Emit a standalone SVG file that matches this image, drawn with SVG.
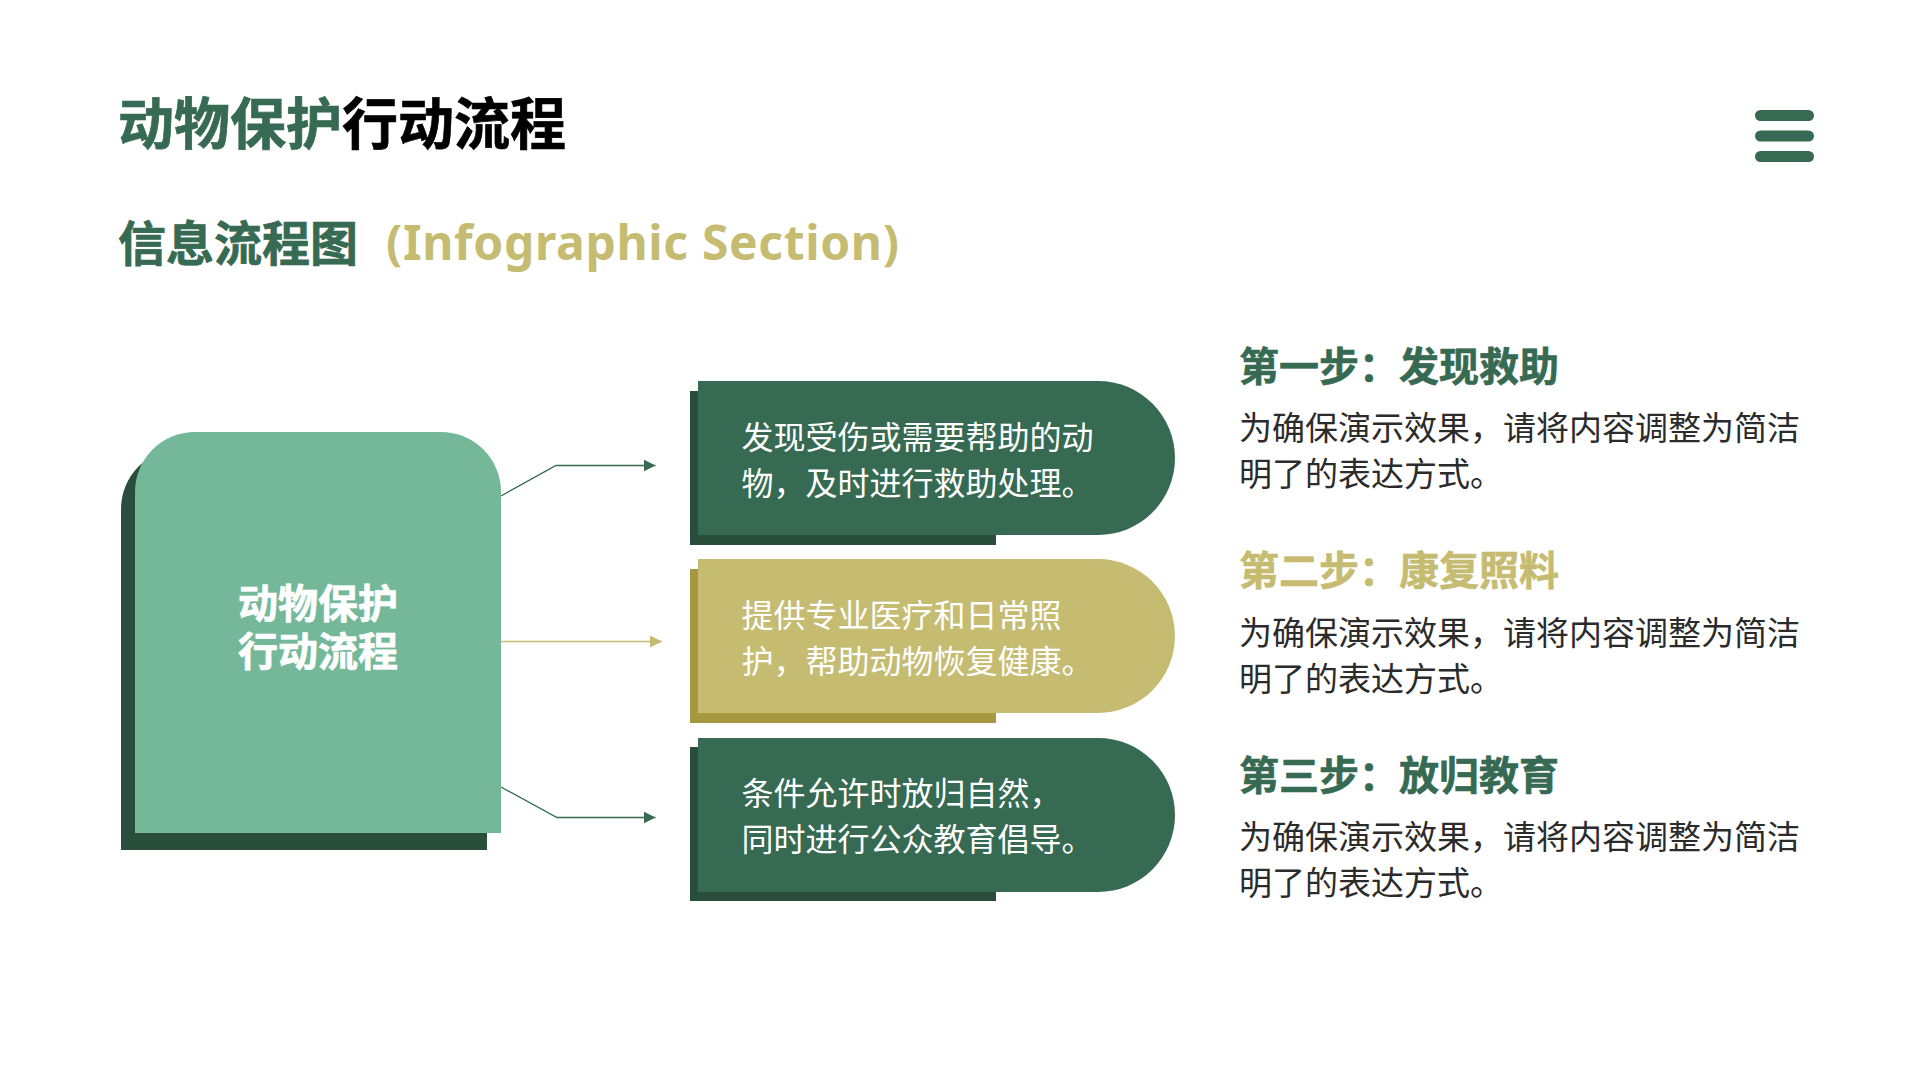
<svg xmlns="http://www.w3.org/2000/svg" width="1920" height="1080" viewBox="0 0 1920 1080">
<style>
text{font-family:"Noto Sans CJK SC","Noto Sans",sans-serif}
.b{font-weight:700;font-family:"Noto Sans","Noto Sans CJK SC",sans-serif;stroke-width:.7;paint-order:stroke}
.h{font-size:40px;font-weight:700;stroke-width:.6}
.d{font-size:33px;fill:#2b2b2b}
.p{font-size:32px;fill:#fff}
.green{fill:#366a52}.gold{fill:#c5bc72}.dk{fill:#2a4e3c}.gs{fill:#a59840}
.sg{stroke:#366a52}.sy{stroke:#c5bc72}
.latin{font-weight:700;letter-spacing:.65px;stroke:none}
.c1{fill:none;stroke:#366a52;stroke-width:1.3}
.c2{fill:none;stroke:#c5bc72;stroke-width:1.3}
</style>
<defs>
<marker id="ag" markerUnits="userSpaceOnUse" markerWidth="12" markerHeight="12" refX="12" refY="6" orient="auto"><path d="M0 0L12 6L0 12Z" fill="#366a52"/></marker>
<marker id="ay" markerUnits="userSpaceOnUse" markerWidth="12" markerHeight="12" refX="12" refY="6" orient="auto"><path d="M0 0L12 6L0 12Z" fill="#c5bc72"/></marker>
</defs>
<rect width="1920" height="1080" fill="#fff"/>
<g id="title"><text x="118" y="144" font-size="56" class="b"><tspan class="green sg">动物保护</tspan><tspan fill="#000" stroke="#000">行动流程</tspan></text></g>
<g id="subtitle"><text x="118" y="261" font-size="48" class="b"><tspan class="green sg">信息流程图</tspan><tspan class="gold latin" x="386" dy="-1">(Infographic Section)</tspan></text></g>
<g id="menu" fill="#366a52"><rect x="1755" y="110" width="59" height="11" rx="5.5"/><rect x="1755" y="130.5" width="59" height="11" rx="5.5"/><rect x="1755" y="151" width="59" height="11" rx="5.5"/></g>
<g id="connectors">
<path class="c1" d="M501 496L556 465.5H655.5" marker-end="url(#ag)"/>
<path class="c2" d="M501 641.5H662" marker-end="url(#ay)"/>
<path class="c1" d="M501 787L557 817.5H655.5" marker-end="url(#ag)"/>
</g>
<g id="main">
<path class="dk" d="M121 850V509A60 60 0 0 1 181 449H427A60 60 0 0 1 487 509V850Z"/>
<path fill="#75b899" d="M135 833V492A60 60 0 0 1 195 432H441A60 60 0 0 1 501 492V833Z"/>
<text font-size="40" class="b" fill="#fff" stroke="#fff" text-anchor="middle"><tspan x="318" y="618">动物保护</tspan><tspan x="318" y="666">行动流程</tspan></text>
</g>
<g id="pill1">
<rect class="dk" x="690" y="391" width="306" height="154"/>
<path class="green" d="M698 381H1098A77 77 0 0 1 1098 535H698Z"/>
<text class="p" x="741.5" y="449">发现受伤或需要帮助的动</text>
<text class="p" x="741.5" y="495">物，及时进行救助处理。</text>
</g>
<g id="pill2">
<rect class="gs" x="690" y="569" width="306" height="154"/>
<path class="gold" d="M698 559H1098A77 77 0 0 1 1098 713H698Z"/>
<text class="p" x="741.5" y="627">提供专业医疗和日常照</text>
<text class="p" x="741.5" y="673">护，帮助动物恢复健康。</text>
</g>
<g id="pill3">
<rect class="dk" x="690" y="747" width="306" height="154"/>
<path class="green" d="M698 738H1098A77 77 0 0 1 1098 892H698Z"/>
<text class="p" x="741.5" y="805">条件允许时放归自然，</text>
<text class="p" x="741.5" y="851">同时进行公众教育倡导。</text>
</g>
<g id="step1">
<text class="h green sg" x="1239" y="380.5">第一步：发现救助</text>
<text class="d" x="1239" y="440">为确保演示效果，请将内容调整为简洁</text>
<text class="d" x="1239" y="486">明了的表达方式。</text>
</g>
<g id="step2">
<text class="h gold sy" x="1239" y="585">第二步：康复照料</text>
<text class="d" x="1239" y="644.5">为确保演示效果，请将内容调整为简洁</text>
<text class="d" x="1239" y="690.5">明了的表达方式。</text>
</g>
<g id="step3">
<text class="h green sg" x="1239" y="789.5">第三步：放归教育</text>
<text class="d" x="1239" y="849">为确保演示效果，请将内容调整为简洁</text>
<text class="d" x="1239" y="895">明了的表达方式。</text>
</g>
</svg>
